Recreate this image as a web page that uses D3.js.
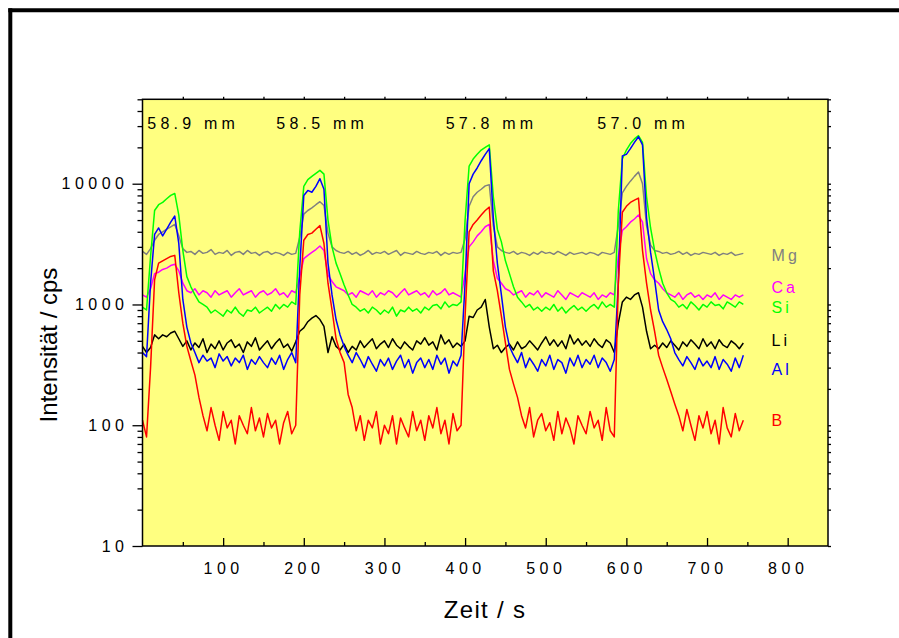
<!DOCTYPE html>
<html>
<head>
<meta charset="utf-8">
<script src="https://cdn.jsdelivr.net/npm/d3@7"></script>
<style>
    body { margin: 0; background: #fff; }
    text { font-family: Arial, "Liberation Sans", sans-serif; }
</style>
</head>
<body>
<div id="chart"></div>
<script>
// Sample times (s), one reading every 5 s
let times = d3.range(0, 750, 5);

// Element names and their traces (cps)
let elements = ['Mg', 'Ca', 'Si', 'Li', 'Al', 'B'];
let colors = ['#808080', '#ff00ff', '#00ff00', '#000000', '#0000ff', '#ff0000'];
// level (cps) where each name label sits at the right
let labelLevels = [2580, 1400, 940, 510, 290, 110];

let mg = [
    2750,2600,2900,3400,3800,4000,4200,4400,4600,3700,
    2900,2700,2750,2600,2800,2650,2700,2850,2600,2700,
    2650,2800,2550,2700,2750,2600,2800,2650,2700,2550,
    2700,2750,2600,2700,2650,2550,2700,2600,2650,3600,
    5600,6000,6300,6700,7100,6600,3900,3000,2800,2700,
    2650,2750,2600,2700,2550,2650,2800,2600,2700,2650,
    2750,2600,2700,2800,2550,2700,2650,2600,2750,2650,
    2600,2700,2650,2750,2550,2700,2600,2700,2650,2700,
    3500,6500,7800,8500,9000,9600,9800,4500,3000,2800,
    2700,2650,2750,2600,2700,2650,2550,2700,2600,2750,
    2650,2700,2600,2750,2650,2550,2700,2600,2650,2700,
    2600,2700,2650,2550,2700,2650,2600,2700,4500,8400,
    9500,10500,11500,12500,10000,4500,3100,2800,2750,2650,
    2700,2600,2650,2750,2600,2700,2550,2650,2600,2700,
    2650,2600,2700,2550,2650,2600,2700,2550,2600,2650
];
let ca = [
    1200,1150,1350,1800,1850,1950,2000,2100,2150,1900,
    1500,1300,1250,1350,1200,1300,1250,1150,1300,1200,
    1250,1300,1150,1250,1350,1200,1250,1300,1150,1250,
    1300,1200,1250,1350,1200,1250,1150,1300,1250,1700,
    2400,2550,2700,2850,3050,2800,1750,1550,1400,1350,
    1300,1200,1250,1150,1300,1250,1200,1300,1150,1250,
    1200,1300,1250,1150,1250,1350,1200,1250,1300,1200,
    1250,1150,1300,1200,1250,1350,1200,1250,1200,1150,
    1800,3000,3300,3700,4000,4400,4600,2300,1650,1500,
    1350,1300,1200,1250,1300,1150,1250,1200,1300,1150,
    1250,1200,1150,1300,1200,1100,1250,1200,1150,1250,
    1200,1150,1250,1100,1200,1150,1250,1200,2500,4100,
    4400,4800,5100,5500,4800,2400,1800,1600,1500,1350,
    1250,1200,1150,1250,1100,1200,1250,1150,1200,1100,
    1200,1150,1250,1100,1200,1150,1100,1200,1150,1200
];
let si = [
    950,900,2500,6000,6700,7000,7500,8000,8300,5500,
    2800,1700,1400,1200,1050,1000,950,850,900,850,
    800,900,850,950,850,800,900,880,950,850,
    900,950,880,1000,920,1000,950,1050,1000,4000,
    9500,10800,11500,12200,12900,12000,5000,3000,2200,1800,
    1450,1200,1000,950,880,920,850,950,900,830,
    900,850,950,800,900,870,950,880,920,850,
    950,900,980,1000,920,1050,950,1000,980,1050,
    5000,14000,16000,17500,19000,20000,21000,7800,4200,3300,
    2300,1800,1400,1150,1050,950,1000,900,950,880,
    950,900,1000,880,950,850,920,980,900,950,
    880,950,1000,920,1050,950,1000,950,6000,16000,
    19000,21500,23500,25000,22000,7800,4300,2800,2000,1500,
    1250,1100,1050,950,1000,920,1050,980,900,1000,
    950,1050,980,1000,920,1050,1000,950,1050,1000
];
let li = [
    450,400,440,560,520,560,540,580,600,520,
    450,500,420,480,440,520,400,470,430,500,
    420,480,510,440,470,400,490,450,530,420,
    460,500,430,480,520,440,470,410,490,600,
    640,720,770,810,750,660,400,540,450,420,
    470,400,450,420,500,440,480,520,430,470,
    500,440,520,460,430,490,450,420,500,470,
    530,460,490,420,560,470,510,440,480,450,
    500,800,780,900,950,1100,650,430,460,400,
    440,470,420,490,430,450,500,460,420,480,
    540,460,510,450,500,430,560,470,520,460,
    500,450,520,470,440,510,480,400,700,1050,
    1150,1100,1200,1250,950,600,430,460,430,480,
    440,500,460,420,490,450,510,470,430,520,
    450,490,430,510,460,440,500,470,430,480
];
let al = [
    400,370,1500,3800,4300,3700,4200,4800,5400,3200,
    1100,650,480,400,330,380,340,360,300,390,
    340,370,310,360,330,380,290,350,320,370,
    330,300,360,320,380,290,350,400,330,2000,
    8000,8800,8500,9500,11000,9000,2200,1200,750,560,
    450,380,330,400,350,300,370,320,280,350,
    310,360,290,340,380,300,350,270,330,360,
    300,350,290,380,320,360,270,340,310,380,
    1500,10000,12000,13500,15500,17500,19500,5200,2200,1200,
    650,450,380,330,400,300,360,320,280,350,
    310,380,290,350,330,270,360,310,380,300,
    350,320,380,300,360,330,280,350,1500,17000,
    17500,19500,22000,24500,21000,5200,2700,1600,900,720,
    620,520,400,350,310,370,330,290,360,310,
    340,300,370,290,350,320,280,360,300,380
];
let b = [
    110,80,300,1600,2200,2300,2400,2500,2550,1250,
    700,450,340,260,170,120,90,140,100,75,
    130,95,110,70,120,100,85,140,90,115,
    80,125,95,110,70,105,130,85,100,1200,
    3400,3800,3900,4200,4500,3200,1500,900,520,400,
    330,180,140,90,120,75,110,95,130,70,
    100,85,120,70,115,95,80,130,90,110,
    75,120,95,140,85,110,70,125,90,100,
    800,4000,4600,5000,5500,6000,6400,1900,1300,800,
    480,290,220,170,120,95,140,80,110,125,
    90,105,75,130,85,115,95,70,120,100,
    85,130,95,110,75,140,90,80,1500,5800,
    6500,7000,7300,7600,2800,1500,900,600,380,300,
    240,190,150,120,90,135,100,75,120,95,
    130,85,110,70,140,95,80,125,90,110
];
let traces = [mg, ca, si, li, al, b];

// Sample positions (mm) written above each peak, with the time they start at
let positions = ['58.9 mm', '58.5 mm', '57.8 mm', '57.0 mm'];
let positionTimes = [6, 166, 376, 564];
let positionLevel = 28500;

// Tick values
let xMajor = [100, 200, 300, 400, 500, 600, 700, 800];
let xMinor = [50, 150, 250, 350, 450, 550, 650, 750];
let yMajor = [10, 100, 1000, 10000];
let yMinor = [];
[10, 100, 1000, 10000].forEach(dec => {
    for (let k = 2; k <= 9; k++) {
        if (dec * k <= 50000) yMinor.push(dec * k);
    }
});

// svg and plot box
let svgWidth = 899;
let svgHeight = 638;
let plot = { left: 142.5, top: 99.3, right: 828, bottom: 546 };

let svg = d3.select('#chart').append('svg')
    .attr('width', svgWidth)
    .attr('height', svgHeight);

// outer frame (left and top edges are visible)
svg.append('line').attr('x1', 10.3).attr('x2', 10.3).attr('y1', 8.3).attr('y2', svgHeight)
    .attr('stroke', 'black').attr('stroke-width', 4);
svg.append('line').attr('x1', 8.3).attr('x2', svgWidth).attr('y1', 10.3).attr('y2', 10.3)
    .attr('stroke', 'black').attr('stroke-width', 4);

let xScale = d3.scaleLinear().domain([0, 850]).range([plot.left, plot.right]);
let yScale = d3.scaleLog().domain([10, 50000]).range([plot.bottom, plot.top]);

svg.append('rect')
    .attr('x', plot.left).attr('y', plot.top)
    .attr('width', plot.right - plot.left).attr('height', plot.bottom - plot.top)
    .attr('fill', '#ffff80');

// traces
let line = d3.line()
    .x((d, i) => xScale(times[i]))
    .y(d => yScale(d));

traces.forEach((tr, k) => {
    svg.append('path')
        .datum(tr)
        .attr('d', line)
        .attr('fill', 'none')
        .attr('stroke', colors[k])
        .attr('stroke-width', 1.5)
        .attr('stroke-linejoin', 'round');
});

// axes
function styleAxis(g) {
    g.select('.domain').remove();
    g.selectAll('line').attr('stroke', 'black').attr('stroke-width', 1.3);
    g.selectAll('text')
        .attr('fill', 'black')
        .style('font-size', '16px')
        .style('letter-spacing', '4.5px')
        .style('font-family', 'Arial, "Liberation Sans", sans-serif');
}

svg.append('g').attr('transform', `translate(0, ${plot.bottom})`)
    .call(d3.axisBottom(xScale).tickValues(xMajor).tickSizeInner(-8).tickSizeOuter(0).tickPadding(16.5))
    .call(styleAxis);
svg.append('g').attr('transform', `translate(0, ${plot.bottom})`)
    .call(d3.axisBottom(xScale).tickValues(xMinor).tickSizeInner(-4).tickSizeOuter(0).tickFormat(''))
    .call(styleAxis);
svg.append('g').attr('transform', `translate(0, ${plot.top})`)
    .call(d3.axisTop(xScale).tickValues(xMajor.concat(xMinor)).tickSizeInner(2.5).tickSizeOuter(0).tickFormat(''))
    .call(styleAxis);

svg.append('g').attr('transform', `translate(${plot.left}, 0)`)
    .call(d3.axisLeft(yScale).tickValues(yMajor).tickSizeInner(10).tickSizeOuter(0).tickPadding(4).tickFormat(d3.format('d')))
    .call(styleAxis);
svg.append('g').attr('transform', `translate(${plot.left}, 0)`)
    .call(d3.axisLeft(yScale).tickValues(yMinor).tickSizeInner(5).tickSizeOuter(0).tickFormat(''))
    .call(styleAxis);
svg.append('g').attr('transform', `translate(${plot.right}, 0)`)
    .call(d3.axisRight(yScale).tickValues(yMajor.concat(yMinor)).tickSizeInner(3).tickSizeOuter(0).tickFormat(''))
    .call(styleAxis);

// plot border
svg.append('rect')
    .attr('x', plot.left).attr('y', plot.top)
    .attr('width', plot.right - plot.left).attr('height', plot.bottom - plot.top)
    .attr('fill', 'none')
    .attr('stroke', 'black')
    .attr('stroke-width', 1.5);

// position annotations
svg.selectAll('text.pos')
    .data(positions).enter()
    .append('text')
    .attr('class', 'pos')
    .attr('x', (d, i) => xScale(positionTimes[i]))
    .attr('y', yScale(positionLevel))
    .style('font-size', '16px')
    .style('letter-spacing', '4.2px')
    .attr('fill', 'black')
    .text(d => d);

// element labels
svg.selectAll('text.elem')
    .data(elements).enter()
    .append('text')
    .attr('class', 'elem')
    .attr('x', xScale(780))
    .attr('y', (d, i) => yScale(labelLevels[i]))
    .attr('dy', '0.36em')
    .style('font-size', '16px')
    .style('letter-spacing', '3px')
    .attr('fill', (d, i) => colors[i])
    .text(d => d);

// axis titles
svg.append('text')
    .attr('x', 485)
    .attr('y', 618.3)
    .attr('text-anchor', 'middle')
    .style('font-size', '24px')
    .style('letter-spacing', '1.3px')
    .text('Zeit / s');

svg.append('text')
    .attr('transform', 'translate(56.7, 345) rotate(-90)')
    .attr('text-anchor', 'middle')
    .style('font-size', '24px')
    .text('Intensität / cps');
</script>
</body>
</html>
